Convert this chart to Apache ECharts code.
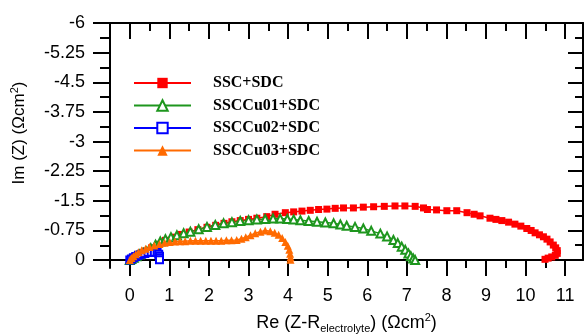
<!DOCTYPE html>
<html><head><meta charset="utf-8">
<script src="https://cdn.jsdelivr.net/npm/echarts@6/dist/echarts.min.js"></script>
<style>html,body{margin:0;padding:0;background:#fff}#c{width:585px;height:334px}</style>
</head><body><div id="c"></div>
<script>
const seriesNames = ['SSC+SDC', 'SSCCu01+SDC', 'SSCCu02+SDC', 'SSCCu03+SDC'];
const seriesColors = ['#ff0000', '#1e961e', '#0000ff', '#ff6a00'];

// [Re, Im] pairs (Ωcm²)
const sscSdc = [[0,0],[0.06,-0.05],[0.15,-0.1],[0.26,-0.16],[0.4,-0.23],[0.55,-0.31],[0.72,-0.4],[0.9,-0.5],[1.1,-0.58],[1.3,-0.65],[1.5,-0.71],[1.72,-0.77],[1.95,-0.83],[2.17,-0.88],[2.38,-0.93],[2.58,-0.97],[2.79,-1.0],[3.0,-1.03],[3.21,-1.06],[3.46,-1.1],[3.67,-1.16],[3.93,-1.2],[4.14,-1.22],[4.35,-1.24],[4.56,-1.26],[4.77,-1.28],[4.98,-1.29],[5.19,-1.31],[5.4,-1.32],[5.65,-1.32],[5.9,-1.34],[6.16,-1.35],[6.43,-1.36],[6.7,-1.37],[6.95,-1.37],[7.21,-1.36],[7.42,-1.32],[7.52,-1.28],[7.75,-1.27],[8.01,-1.25],[8.26,-1.25],[8.52,-1.2],[8.7,-1.16],[8.85,-1.12],[9.1,-1.06],[9.25,-1.03],[9.4,-1.0],[9.57,-0.96],[9.73,-0.91],[9.88,-0.86],[10.03,-0.8],[10.14,-0.75],[10.24,-0.69],[10.35,-0.64],[10.45,-0.59],[10.54,-0.53],[10.62,-0.46],[10.7,-0.38],[10.76,-0.31],[10.8,-0.24],[10.8,-0.17],[10.75,-0.12],[10.66,-0.08],[10.57,-0.05],[10.49,-0.02]];
const sscCu01 = [[0,0],[0.04,-0.03],[0.1,-0.06],[0.17,-0.1],[0.25,-0.14],[0.34,-0.18],[0.43,-0.22],[0.53,-0.3],[0.65,-0.39],[0.77,-0.47],[0.9,-0.53],[1.04,-0.58],[1.19,-0.63],[1.36,-0.68],[1.53,-0.72],[1.74,-0.78],[1.95,-0.84],[2.16,-0.89],[2.37,-0.93],[2.58,-0.96],[2.79,-0.99],[3.0,-1.01],[3.21,-1.03],[3.42,-1.04],[3.62,-1.05],[3.8,-1.05],[3.98,-1.04],[4.14,-1.03],[4.31,-1.01],[4.52,-0.99],[4.73,-0.97],[4.94,-0.95],[5.15,-0.93],[5.32,-0.9],[5.48,-0.87],[5.69,-0.84],[5.9,-0.8],[6.1,-0.74],[6.33,-0.67],[6.5,-0.6],[6.66,-0.51],[6.77,-0.43],[6.87,-0.34],[6.96,-0.26],[7.04,-0.17],[7.1,-0.1],[7.16,-0.04],[7.21,0]];
const sscCu02 = [[0,0],[0.04,-0.03],[0.09,-0.06],[0.15,-0.09],[0.22,-0.12],[0.3,-0.15],[0.38,-0.17],[0.46,-0.19],[0.54,-0.2],[0.62,-0.2],[0.69,-0.19],[0.73,-0.15],[0.75,-0.1],[0.75,-0.05],[0.75,-0.01]];
const sscCu03 = [[0,0],[0.04,-0.05],[0.09,-0.1],[0.15,-0.15],[0.22,-0.2],[0.3,-0.25],[0.4,-0.29],[0.5,-0.33],[0.62,-0.37],[0.75,-0.41],[0.88,-0.44],[1.01,-0.46],[1.14,-0.47],[1.27,-0.48],[1.4,-0.48],[1.53,-0.49],[1.66,-0.49],[1.79,-0.49],[1.92,-0.49],[2.05,-0.49],[2.18,-0.49],[2.31,-0.49],[2.44,-0.5],[2.57,-0.5],[2.7,-0.51],[2.82,-0.54],[2.93,-0.58],[3.05,-0.63],[3.17,-0.68],[3.3,-0.72],[3.42,-0.75],[3.55,-0.73],[3.66,-0.69],[3.76,-0.64],[3.85,-0.56],[3.93,-0.46],[3.99,-0.36],[4.03,-0.26],[4.05,-0.16],[4.06,-0.07],[4.06,-0.01]];

const xMajorTicks = [0,1,2,3,4,5,6,7,8,9,10,11];
const xMinorTicks = [0.5,1.5,2.5,3.5,4.5,5.5,6.5,7.5,8.5,9.5,10.5];
const yMajorTicks = [-6,-5.25,-4.5,-3.75,-3,-2.25,-1.5,-0.75,0];
const yMinorTicks = [-5.625,-4.875,-4.125,-3.375,-2.625,-1.875,-1.125,-0.375];

const FONT = 'Liberation Sans, Arial, sans-serif';
const black = '#000';
const lineW = {color: black, width: 2};
const X_MIN = -0.5, X_MAX = 11.45;

function xAx(extra) {
  return Object.assign({
    type: 'value', min: X_MIN, max: X_MAX, splitLine: {show: false},
    axisLabel: {show: false}
  }, extra);
}
function yAx(extra) {
  return Object.assign({
    type: 'value', inverse: true, splitLine: {show: false},
    axisLabel: {show: false}
  }, extra);
}

const chart = echarts.init(document.getElementById('c'), null, {renderer: 'canvas'});
chart.setOption({
  animation: false,
  backgroundColor: '#fff',
  grid: [
    {left: 110, right: 2, top: 23, bottom: 66, outerBoundsMode: 'none', containLabel: false},
    {left: 110, right: 2, top: 23, bottom: 74, outerBoundsMode: 'none', containLabel: false},
    {left: 110, right: 2, top: 23, bottom: 91, outerBoundsMode: 'none', containLabel: false}
  ],
  legend: {
    data: seriesNames,
    orient: 'vertical', left: 128, top: 70,
    itemWidth: 57, itemHeight: 13, itemGap: 6.5,
    textStyle: {fontFamily: 'Liberation Serif, Times New Roman, serif', fontWeight: 'bold', fontSize: 16, color: black, padding: [0,0,0,17]}
  },
  xAxis: [
    xAx({gridIndex: 0, position: 'bottom',
      axisLine: {onZero: true, lineStyle: lineW},
      axisTick: {customValues: xMajorTicks, length: 16, lineStyle: lineW},
      axisLabel: {show: true, customValues: xMajorTicks, margin: 19, fontSize: 18, fontFamily: FONT, color: black},
      name: '{t|Re (Z-R}{s|electrolyte}{t|) (Ωcm}{p|2}{t|)}',
      nameLocation: 'middle', nameGap: 44,
      nameTextStyle: {color: black, fontFamily: FONT, rich: {
        t: {fontSize: 18, fontFamily: FONT, color: black, lineHeight: 22},
        s: {fontSize: 11, fontFamily: FONT, color: black, lineHeight: 11, verticalAlign: 'bottom'},
        p: {fontSize: 11, fontFamily: FONT, color: black, lineHeight: 11, verticalAlign: 'top'}
      }}
    }),
    xAx({gridIndex: 0, position: 'bottom',
      axisLine: {show: false, onZero: true},
      axisTick: {customValues: xMinorTicks, length: 8, lineStyle: lineW}
    }),
    xAx({gridIndex: 1, position: 'top',
      axisLine: {onZero: false, lineStyle: lineW},
      axisTick: {inside: true, customValues: xMajorTicks, length: 16, lineStyle: lineW}
    }),
    xAx({gridIndex: 1, position: 'top',
      axisLine: {show: false, onZero: false},
      axisTick: {inside: true, customValues: xMinorTicks, length: 8, lineStyle: lineW}
    }),
    xAx({gridIndex: 2, show: false})
  ],
  yAxis: [
    yAx({gridIndex: 0, position: 'left', min: -6, max: 0.2,
      axisLine: {onZero: false, lineStyle: lineW},
      axisTick: {customValues: yMajorTicks, length: 17, lineStyle: lineW},
      axisLabel: {show: true, customValues: yMajorTicks, margin: 25, fontSize: 18, fontFamily: FONT, color: black}
    }),
    yAx({gridIndex: 0, position: 'left', min: -6, max: 0.2,
      axisLine: {show: false, onZero: false},
      axisTick: {customValues: yMinorTicks, length: 10, lineStyle: lineW}
    }),
    yAx({gridIndex: 1, position: 'right', min: -6, max: 0,
      axisLine: {onZero: false, lineStyle: lineW},
      axisTick: {inside: true, customValues: yMajorTicks, length: 15, lineStyle: lineW}
    }),
    yAx({gridIndex: 1, position: 'right', min: -6, max: 0,
      axisLine: {show: false, onZero: false},
      axisTick: {inside: true, customValues: yMinorTicks, length: 8, lineStyle: lineW}
    }),
    yAx({gridIndex: 2, position: 'left', min: -6, max: 0,
      axisLine: {show: false, onZero: false}, axisTick: {show: false},
      name: '{t|Im (Z) (Ωcm}{p|2}{t|)}', nameLocation: 'middle', nameGap: 80,
      nameTextStyle: {color: black, fontFamily: FONT, rich: {
        t: {fontSize: 17, fontFamily: FONT, color: black, lineHeight: 21},
        p: {fontSize: 11, fontFamily: FONT, color: black, lineHeight: 11, verticalAlign: 'top'}
      }}
    })
  ],
  series: [
    {name: seriesNames[0], type: 'line', xAxisIndex: 0, yAxisIndex: 0, data: sscSdc,
      symbol: 'rect', symbolSize: 7, color: seriesColors[0],
      itemStyle: {color: seriesColors[0]}, lineStyle: {width: 1.5, color: seriesColors[0]}},
    {name: seriesNames[1], type: 'line', xAxisIndex: 0, yAxisIndex: 0, data: sscCu01,
      symbol: 'emptyTriangle', symbolSize: 8, color: seriesColors[1],
      itemStyle: {color: seriesColors[1], borderColor: seriesColors[1], borderWidth: 1.3}, lineStyle: {width: 1.5, color: seriesColors[1]}},
    {name: seriesNames[2], type: 'line', xAxisIndex: 0, yAxisIndex: 0, data: sscCu02,
      symbol: 'emptyRect', symbolSize: 7, color: seriesColors[2],
      itemStyle: {color: seriesColors[2], borderColor: seriesColors[2], borderWidth: 1.3}, lineStyle: {width: 1.5, color: seriesColors[2]}},
    {name: seriesNames[3], type: 'line', xAxisIndex: 0, yAxisIndex: 0, data: sscCu03,
      symbol: 'triangle', symbolSize: 8, color: seriesColors[3],
      itemStyle: {color: seriesColors[3]}, lineStyle: {width: 1.5, color: seriesColors[3]}}
  ]
});
</script></body></html>
